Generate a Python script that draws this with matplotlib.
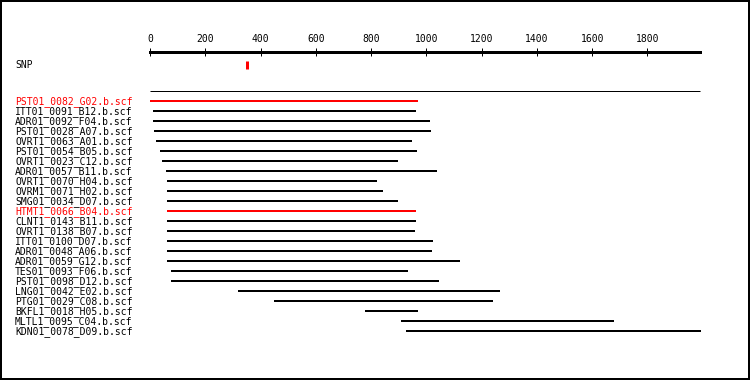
import matplotlib
matplotlib.use("Agg")
import matplotlib.pyplot as plt
import matplotlib.transforms as mtransforms

# reads aligned against the reference sequence (bp)
read_names = [
    "PST01_0082_G02.b.scf", "ITT01_0091_B12.b.scf", "ADR01_0092_F04.b.scf",
    "PST01_0028_A07.b.scf", "OVRT1_0063_A01.b.scf", "PST01_0054_B05.b.scf",
    "OVRT1_0023_C12.b.scf", "ADR01_0057_B11.b.scf", "OVRT1_0070_H04.b.scf",
    "OVRM1_0071_H02.b.scf", "SMG01_0034_D07.b.scf", "HTMT1_0066_B04.b.scf",
    "CLNT1_0143_B11.b.scf", "OVRT1_0138_B07.b.scf", "ITT01_0100_D07.b.scf",
    "ADR01_0048_A06.b.scf", "ADR01_0059_G12.b.scf", "TES01_0093_F06.b.scf",
    "PST01_0098_D12.b.scf", "LNG01_0042_E02.b.scf", "PTG01_0029_C08.b.scf",
    "BKFL1_0018_H05.b.scf", "MLTL1_0095_C04.b.scf", "KDN01_0078_D09.b.scf",
]
read_starts = [0, 12, 12, 14, 22, 36, 43, 58, 60, 60, 60, 60,
               60, 60, 60, 60, 60, 76, 76, 318, 448, 778, 908, 926]
read_ends = [968, 962, 1013, 1016, 948, 966, 897, 1038, 821, 843, 897, 962,
             962, 958, 1023, 1020, 1121, 933, 1045, 1266, 1240, 969, 1678, 1992]
highlighted = ["PST01_0082_G02.b.scf", "HTMT1_0066_B04.b.scf"]

snp_pos = 350
seq_len = 1990
tick_values = [0, 200, 400, 600, 800, 1000, 1200, 1400, 1600, 1800]

W, H, DPI = 750, 380, 100
PX = 72.0 / DPI  # one pixel in points
FONT = "DejaVu Sans Mono"

fig = plt.figure(figsize=(W / DPI, H / DPI), dpi=DPI)
fig.patch.set_facecolor("white")
fig.patch.set_edgecolor("black")
fig.patch.set_linewidth(4 * PX)

# rows sit 10px apart starting at y=101px; axes top is the scale line at 51.5px
top_px, bot_px = 51.5, 345.0
row0_px, row_step = 101.0, 10.0
ax = fig.add_axes([150 / W, 1 - bot_px / H, 550 / W, (bot_px - top_px) / H])
ax.set_xlim(0, seq_len)
ax.set_ylim((bot_px - row0_px) / row_step, (top_px - row0_px) / row_step)

for side in ["left", "right", "bottom"]:
    ax.spines[side].set_visible(False)
ax.spines["top"].set_linewidth(3 * PX)
ax.xaxis.tick_top()
ax.set_xticks(tick_values)
ax.set_xticklabels([str(t) for t in tick_values], fontfamily=FONT, fontsize=7)
ax.tick_params(axis="x", direction="inout", length=8 * PX, width=1 * PX,
               pad=2.5, colors="black")
ax.set_yticks([])

def row_of(px):
    return (px - row0_px) / row_step

# SNP marker
ax.vlines(snp_pos, row_of(61.5), row_of(68.5), color="red", linewidth=3 * PX)
# separator line
ax.hlines(row_of(90.5), 0, seq_len, color="black", linewidth=1 * PX, clip_on=False)

label_tr = mtransforms.blended_transform_factory(fig.transFigure, ax.transData)
ax.text(15 / W, row_of(65) + 0.27, "SNP", transform=label_tr, fontfamily=FONT,
        fontsize=7, va="baseline", ha="left")

for i, (name, s, e) in enumerate(zip(read_names, read_starts, read_ends)):
    c = "red" if name in highlighted else "black"
    ax.hlines(i, s, e, color=c, linewidth=2 * PX, clip_on=False)
    ax.text(15 / W, i + 0.27, name, transform=label_tr, fontfamily=FONT,
            fontsize=7, color=c, va="baseline", ha="left")

fig.savefig("out.png", dpi=DPI)
